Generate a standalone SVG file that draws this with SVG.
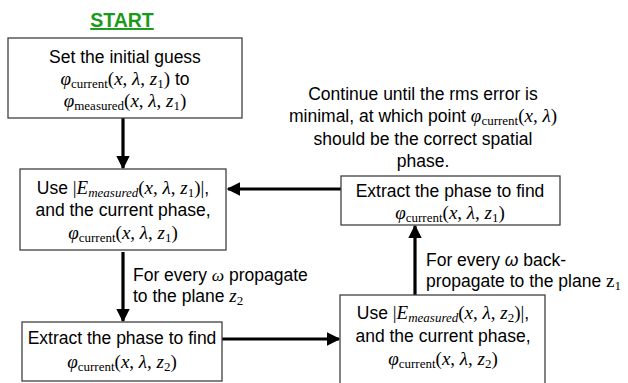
<svg xmlns="http://www.w3.org/2000/svg" width="628" height="383" viewBox="0 0 628 383">
<defs>
<marker id="ah" viewBox="0 0 10 10" refX="9" refY="5" markerWidth="4.2" markerHeight="4.2" orient="auto" markerUnits="strokeWidth"><path d="M0,0 L10,5 L0,10 z" fill="#000"/></marker>
<style>
.box{fill:#fff;stroke:#404040;stroke-width:1.3}
.t{font-family:"Liberation Sans",Arial,sans-serif;font-size:17.5px;fill:#000}
.m{font-family:"Liberation Serif","Times New Roman",serif;font-style:italic;font-size:19px}
.u{font-family:"Liberation Serif","Times New Roman",serif;font-style:normal;font-size:19px}
.s{font-family:"Liberation Serif","Times New Roman",serif;font-style:normal;font-size:13px}
.si{font-family:"Liberation Serif","Times New Roman",serif;font-style:italic;font-size:13px}
.conn{stroke:#000;stroke-width:3.2;fill:none;marker-end:url(#ah)}
</style>
</defs>
<rect width="628" height="383" fill="#fff"/>
<text x="122" y="27" text-anchor="middle" font-family="Liberation Sans,Arial,sans-serif" font-size="19.5" font-weight="bold" fill="#1a9a1a" text-decoration="underline">START</text>
<g id="connectors">
<line class="conn" x1="123" y1="118" x2="123" y2="168"/>
<line class="conn" x1="123" y1="252" x2="123" y2="321"/>
<line class="conn" x1="222" y1="339" x2="339" y2="339"/>
<line class="conn" x1="415" y1="295" x2="415" y2="226"/>
<line class="conn" x1="341" y1="189" x2="228" y2="189"/>
</g>
<g id="n1">
<rect class="box" x="8" y="38" width="234" height="80"/>
<text class="t" x="125" y="63" text-anchor="middle">Set the initial guess</text>
<text class="t" x="125" y="85" text-anchor="middle"><tspan class="m">φ</tspan><tspan class="s" dy="3">current</tspan><tspan class="u" dy="-3">(</tspan><tspan class="m">x</tspan><tspan class="u">, </tspan><tspan class="m">λ</tspan><tspan class="u">, </tspan><tspan class="m">z</tspan><tspan class="s" dy="3">1</tspan><tspan class="u" dy="-3">)</tspan> to</text>
<text class="t" x="125" y="107" text-anchor="middle"><tspan class="m">φ</tspan><tspan class="s" dy="3">measured</tspan><tspan class="u" dy="-3">(</tspan><tspan class="m">x</tspan><tspan class="u">,  </tspan><tspan class="m">λ</tspan><tspan class="u">, </tspan><tspan class="m">z</tspan><tspan class="s" dy="3">1</tspan><tspan class="u" dy="-3">)</tspan></text>
</g>
<g id="n2">
<rect class="box" x="20" y="169" width="206" height="81"/>
<text class="t" x="123" y="194" text-anchor="middle">Use <tspan class="u">|</tspan><tspan class="m">E</tspan><tspan class="si" dy="3">measured</tspan><tspan class="u" dy="-3">(</tspan><tspan class="m">x</tspan><tspan class="u">,  </tspan><tspan class="m">λ</tspan><tspan class="u">, </tspan><tspan class="m">z</tspan><tspan class="s" dy="3">1</tspan><tspan class="u" dy="-3">)|</tspan>,</text>
<text class="t" x="123" y="216" text-anchor="middle">and the current phase,</text>
<text class="t" x="123" y="239" text-anchor="middle"><tspan class="m">φ</tspan><tspan class="s" dy="3">current</tspan><tspan class="u" dy="-3">(</tspan><tspan class="m">x</tspan><tspan class="u">, </tspan><tspan class="m">λ</tspan><tspan class="u">, </tspan><tspan class="m">z</tspan><tspan class="s" dy="3">1</tspan><tspan class="u" dy="-3">)</tspan></text>
</g>
<g id="n3">
<rect class="box" x="22" y="322" width="200" height="59"/>
<text class="t" x="122" y="344" text-anchor="middle">Extract the phase to find</text>
<text class="t" x="122" y="368" text-anchor="middle"><tspan class="m">φ</tspan><tspan class="s" dy="3">current</tspan><tspan class="u" dy="-3">(</tspan><tspan class="m">x</tspan><tspan class="u">, </tspan><tspan class="m">λ</tspan><tspan class="u">, </tspan><tspan class="m">z</tspan><tspan class="s" dy="3">2</tspan><tspan class="u" dy="-3">)</tspan></text>
</g>
<g id="n4">
<rect class="box" x="340" y="295" width="205" height="95"/>
<text class="t" x="443" y="319" text-anchor="middle">Use <tspan class="u">|</tspan><tspan class="m">E</tspan><tspan class="si" dy="3">measured</tspan><tspan class="u" dy="-3">(</tspan><tspan class="m">x</tspan><tspan class="u">,  </tspan><tspan class="m">λ</tspan><tspan class="u">, </tspan><tspan class="m">z</tspan><tspan class="s" dy="3">2</tspan><tspan class="u" dy="-3">)|</tspan>,</text>
<text class="t" x="443" y="342" text-anchor="middle">and the current phase,</text>
<text class="t" x="443" y="365" text-anchor="middle"><tspan class="m">φ</tspan><tspan class="s" dy="3">current</tspan><tspan class="u" dy="-3">(</tspan><tspan class="m">x</tspan><tspan class="u">, </tspan><tspan class="m">λ</tspan><tspan class="u">, </tspan><tspan class="m">z</tspan><tspan class="s" dy="3">2</tspan><tspan class="u" dy="-3">)</tspan></text>
</g>
<g id="n5">
<rect class="box" x="341" y="176" width="219" height="49"/>
<text class="t" x="450" y="197" text-anchor="middle">Extract the phase to find</text>
<text class="t" x="450" y="219" text-anchor="middle"><tspan class="m">φ</tspan><tspan class="s" dy="3">current</tspan><tspan class="u" dy="-3">(</tspan><tspan class="m">x</tspan><tspan class="u">, </tspan><tspan class="m">λ</tspan><tspan class="u">, </tspan><tspan class="m">z</tspan><tspan class="s" dy="3">1</tspan><tspan class="u" dy="-3">)</tspan></text>
</g>
<g id="labels">
<text class="t" x="133" y="281">For every <tspan class="m" font-family="Liberation Sans,Arial,sans-serif" style="font-size:17.5px">ω</tspan> propagate</text>
<text class="t" x="133" y="302">to the plane <tspan class="m">z</tspan><tspan class="s" dy="3">2</tspan></text>
<text class="t" x="426" y="266">For every <tspan class="m" style="font-family:'Liberation Sans',Arial,sans-serif;font-size:17.5px">ω</tspan> back-</text>
<text class="t" x="426" y="287">propagate to the plane <tspan class="u">z</tspan><tspan class="s" dy="3">1</tspan></text>
<text class="t" x="423" y="100" text-anchor="middle">Continue until the rms error is</text>
<text class="t" x="423" y="122" text-anchor="middle">minimal,  at which point <tspan class="m">φ</tspan><tspan class="s" dy="3">current</tspan><tspan class="u" dy="-3">(</tspan><tspan class="m">x</tspan><tspan class="u">, </tspan><tspan class="m">λ</tspan><tspan class="u">)</tspan></text>
<text class="t" x="423" y="145" text-anchor="middle">should be the correct spatial</text>
<text class="t" x="423" y="167" text-anchor="middle">phase.</text>
</g>
</svg>
